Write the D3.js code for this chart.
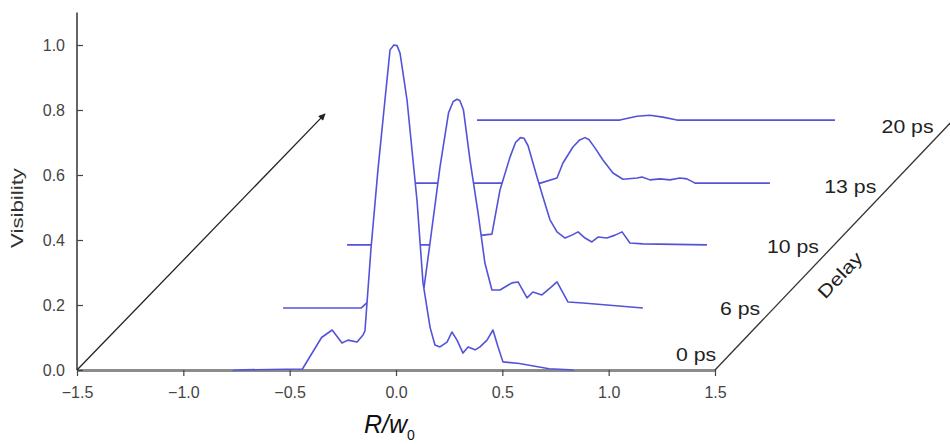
<!DOCTYPE html>
<html>
<head>
<meta charset="utf-8">
<script src="https://cdn.jsdelivr.net/npm/d3@7"></script>
<style>
  body { margin: 0; background: #fff; }
  svg { display: block; font-family: Arial, "Liberation Sans", sans-serif; }
</style>
</head>
<body>
<svg class="canvas" width="950" height="444"></svg>
<script>
// delay traces, each [R/w0, visibility] in its own frame
const delays = ["0 ps", "6 ps", "10 ps", "13 ps", "20 ps"];
const shiftR = [0, 0.287, 0.597, 0.889, 1.18];
const shiftV = [0, 0.191, 0.385, 0.575, 0.769];
const labelV = [0.046, 0.188, 0.378, 0.563, 0.748];

const trace0 = [
  [-0.77, 0], [-0.44, 0.003], [-0.35, 0.1], [-0.3, 0.123], [-0.254, 0.083],
  [-0.226, 0.092], [-0.183, 0.086], [-0.155, 0.108], [-0.146, 0.12],
  [-0.118, 0.37], [-0.085, 0.615], [-0.052, 0.83], [-0.028, 0.985], [-0.01, 1.0],
  [0.005, 0.998], [0.019, 0.975], [0.052, 0.83], [0.099, 0.52], [0.127, 0.268],
  [0.16, 0.132], [0.183, 0.077], [0.207, 0.071], [0.24, 0.086], [0.263, 0.117],
  [0.287, 0.092], [0.315, 0.052], [0.339, 0.071], [0.372, 0.062], [0.395, 0.071],
  [0.428, 0.092], [0.456, 0.123], [0.48, 0.071], [0.503, 0.025], [0.58, 0.02],
  [0.72, 0.004], [0.84, 0]
];
const trace6 = [
  [-0.818, 0], [-0.45, 0], [-0.35, 0.06], [-0.3, 0.075], [-0.25, 0.05],
  [-0.2, 0.055], [-0.155, 0.064], [-0.127, 0.2], [-0.08, 0.434], [-0.04, 0.6],
  [-0.018, 0.635], [0.0, 0.642], [0.013, 0.638], [0.03, 0.61], [0.061, 0.455],
  [0.099, 0.292], [0.131, 0.138], [0.164, 0.055], [0.202, 0.055], [0.258, 0.077],
  [0.287, 0.08], [0.329, 0.031], [0.357, 0.049], [0.399, 0.04], [0.437, 0.061],
  [0.47, 0.08], [0.522, 0.018], [0.592, 0.015], [0.874, 0]
];
const trace10 = [
  [-0.827, 0], [-0.42, 0], [-0.35, 0.03], [-0.3, 0.04], [-0.25, 0.025],
  [-0.188, 0.03], [-0.146, 0.033], [-0.108, 0.169], [-0.061, 0.27], [-0.035, 0.315],
  [-0.012, 0.33], [0.005, 0.328], [0.024, 0.305], [0.066, 0.209], [0.094, 0.147],
  [0.127, 0.077], [0.16, 0.04], [0.198, 0.021], [0.23, 0.03], [0.259, 0.04],
  [0.292, 0.021], [0.324, 0.009], [0.353, 0.024], [0.395, 0.021], [0.433, 0.03],
  [0.466, 0.04], [0.503, 0.006], [0.564, 0.003], [0.865, 0]
];
const trace13 = [
  [-0.82, 0], [-0.21, 0], [-0.132, 0.016], [-0.104, 0.062], [-0.057, 0.111],
  [-0.025, 0.133], [0.0, 0.14], [0.018, 0.134], [0.045, 0.11], [0.084, 0.071],
  [0.131, 0.031], [0.178, 0.012], [0.244, 0.016], [0.268, 0.019], [0.305, 0.01],
  [0.352, 0.013], [0.399, 0.01], [0.446, 0.016], [0.479, 0.013], [0.517, 0],
  [0.869, 0]
];
const trace20 = [
  [-0.799, 0], [-0.127, 0], [-0.047, 0.012], [0.014, 0.015], [0.075, 0.009],
  [0.141, 0], [0.884, 0]
];
const traces = [trace0, trace6, trace10, trace13, trace20];

const xTicks = [-1.5, -1.0, -0.5, 0.0, 0.5, 1.0, 1.5];
const xMinor = [-1.25, -0.75, -0.25, 0.25, 0.75, 1.25];
const yTicks = [0.0, 0.2, 0.4, 0.6, 0.8, 1.0];
const yMinor = [0.1, 0.3, 0.5, 0.7, 0.9];
const arrowEnd = [-0.334, 0.788];
const delayAxisEnd = [2.65, 0.79];

const svg = d3.select(".canvas");
const x = d3.scaleLinear().domain([-1.5, 1.5]).range([77, 715]);
const y = d3.scaleLinear().domain([0, 1]).range([370, 45]);
const blue = "#5353d9";

// x axis
const gx = svg.append("g").attr("transform", `translate(0, ${y(0)})`);
gx.call(d3.axisBottom(x).tickValues(xMinor).tickSize(4).tickSizeOuter(0).tickFormat(""));
gx.call(d3.axisBottom(x).tickValues(xTicks).tickSize(6).tickSizeOuter(0)
  .tickPadding(11).tickFormat(d3.format(".1f")));
gx.selectAll(".domain").attr("stroke", "#8c8c8c").attr("stroke-width", 3);
gx.selectAll(".tick line").attr("stroke", "#444").attr("stroke-width", 1.2);
gx.selectAll(".tick text").attr("fill", "#444").style("font-size", "16px");

// y axis
const gy = svg.append("g").attr("transform", `translate(${x(-1.5)}, 0)`);
gy.append("line").attr("y1", y(0)).attr("y2", y(1.1)).attr("stroke", "#333").attr("stroke-width", 1.5);
gy.call(d3.axisLeft(y).tickValues(yMinor).tickSize(-3).tickSizeOuter(0).tickFormat(""));
gy.call(d3.axisLeft(y).tickValues(yTicks).tickSize(-6).tickSizeOuter(0)
  .tickPadding(12).tickFormat(d3.format(".1f")));
gy.selectAll(".domain").remove();
gy.selectAll(".tick line").attr("stroke", "#444").attr("stroke-width", 1.2);
gy.selectAll(".tick text").attr("fill", "#444").style("font-size", "16px");

// arrow
svg.append("defs").append("marker")
  .attr("id", "head").attr("viewBox", "0 0 10 10").attr("refX", 9).attr("refY", 5)
  .attr("markerWidth", 9).attr("markerHeight", 7).attr("orient", "auto")
  .attr("markerUnits", "userSpaceOnUse")
  .append("path").attr("d", "M0,0 L10,5 L0,10 z").attr("fill", "#222");
svg.append("line")
  .attr("x1", x(-1.5)).attr("y1", y(0))
  .attr("x2", x(arrowEnd[0])).attr("y2", y(arrowEnd[1]))
  .attr("stroke", "#222").attr("stroke-width", 1.3)
  .attr("marker-end", "url(#head)");

// delay axis
svg.append("line")
  .attr("x1", x(1.5)).attr("y1", y(0))
  .attr("x2", x(delayAxisEnd[0])).attr("y2", y(delayAxisEnd[1]))
  .attr("stroke", "#333").attr("stroke-width", 1.3);

// traces, back to front, white fill hides lines behind
const line = d3.line();
for (let k = traces.length - 1; k >= 0; k--) {
  const pts = traces[k].map((d) => [x(d[0] + shiftR[k]), y(d[1] + shiftV[k])]);
  const base = y(shiftV[k]) - 1.5;
  svg.append("path")
    .attr("d", d3.area().x((p) => p[0]).y0(base).y1((p) => p[1])(pts))
    .attr("fill", "#fff");
  svg.append("path")
    .attr("d", line(pts))
    .attr("fill", "none")
    .attr("stroke", blue)
    .attr("stroke-width", 1.6)
    .attr("stroke-linejoin", "round");
}

// delay labels along the delay axis
const slope = (delayAxisEnd[0] - 1.5) / delayAxisEnd[1];
delays.forEach((lab, i) => {
  const t = svg.append("text")
    .attr("x", x(1.5 + labelV[i] * slope) - 13)
    .attr("y", y(labelV[i]))
    .attr("dy", "0.35em")
    .attr("text-anchor", "end")
    .attr("fill", "#222")
    .style("font-size", "18px")
    .text(lab);
  t.attr("textLength", t.node().getComputedTextLength() * 1.18)
    .attr("lengthAdjust", "spacingAndGlyphs");
});

svg.append("text")
  .attr("transform", "translate(840, 275) rotate(-46.5)")
  .attr("text-anchor", "middle")
  .attr("dy", "0.35em")
  .attr("fill", "#222")
  .style("font-size", "18px")
  .attr("textLength", 56)
  .attr("lengthAdjust", "spacingAndGlyphs")
  .text("Delay");

// axis titles
svg.append("text")
  .attr("transform", "translate(17, 208) rotate(-90)")
  .attr("text-anchor", "middle")
  .attr("dy", "0.35em")
  .attr("fill", "#333")
  .style("font-size", "17px")
  .attr("textLength", 80)
  .attr("lengthAdjust", "spacingAndGlyphs")
  .text("Visibility");

const xt = svg.append("text")
  .attr("x", 364)
  .attr("y", 433)
  .attr("fill", "#111")
  .style("font-size", "25px")
  .style("font-style", "italic");
xt.append("tspan").text("R/w");
xt.append("tspan").attr("dy", 7).style("font-size", "14px").style("font-style", "normal").text("0");
</script>
</body>
</html>
